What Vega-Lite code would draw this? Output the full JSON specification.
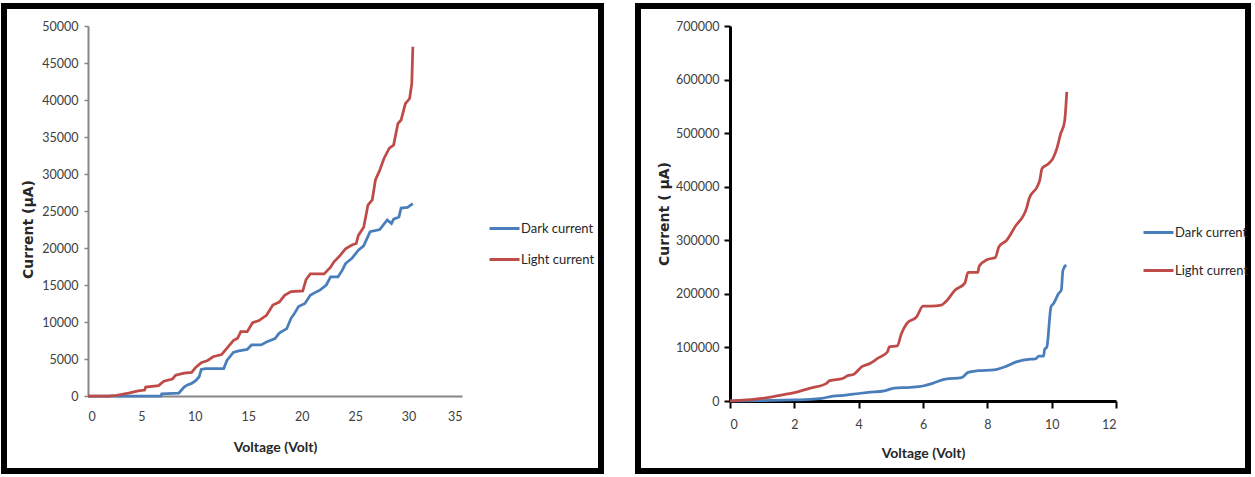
{
  "$schema": "https://vega.github.io/schema/vega-lite/v6.json",
  "padding": {"top": 3, "left": 1, "right": 0, "bottom": 0},
  "background": "white",
  "config": {
    "view": {"stroke": "black", "strokeWidth": 6},
    "concat": {"spacing": 31},
    "legend": {"labelFont": "Lato", "labelFontSize": 13, "labelColor": "#262626", "symbolType": "stroke", "symbolSize": 900, "symbolStrokeWidth": 3, "labelOffset": 0}
  },
  "resolve": {"scale": {"color": "independent"}, "legend": {"color": "independent"}},
  "datasets": {
    "left": [
      {"V": 0, "I": 0, "s": "Dark current"}, {"V": 2, "I": 0, "s": "Dark current"}, {"V": 4, "I": 0, "s": "Dark current"}, {"V": 6.8, "I": 0, "s": "Dark current"}, {"V": 6.9, "I": 300, "s": "Dark current"}, {"V": 8.5, "I": 400, "s": "Dark current"}, {"V": 9.0, "I": 1200, "s": "Dark current"}, {"V": 9.3, "I": 1500, "s": "Dark current"}, {"V": 9.7, "I": 1700, "s": "Dark current"}, {"V": 10.1, "I": 2100, "s": "Dark current"}, {"V": 10.4, "I": 2600, "s": "Dark current"}, {"V": 10.6, "I": 3600, "s": "Dark current"}, {"V": 11, "I": 3700, "s": "Dark current"}, {"V": 12.7, "I": 3700, "s": "Dark current"}, {"V": 13.0, "I": 4800, "s": "Dark current"}, {"V": 13.6, "I": 5900, "s": "Dark current"}, {"V": 14.1, "I": 6100, "s": "Dark current"}, {"V": 14.9, "I": 6300, "s": "Dark current"}, {"V": 15.3, "I": 6900, "s": "Dark current"}, {"V": 16.2, "I": 6900, "s": "Dark current"}, {"V": 16.7, "I": 7300, "s": "Dark current"}, {"V": 17.5, "I": 7750, "s": "Dark current"}, {"V": 17.9, "I": 8500, "s": "Dark current"}, {"V": 18.6, "I": 9100, "s": "Dark current"}, {"V": 19.0, "I": 10500, "s": "Dark current"}, {"V": 19.3, "I": 11100, "s": "Dark current"}, {"V": 19.7, "I": 12100, "s": "Dark current"}, {"V": 20.3, "I": 12500, "s": "Dark current"}, {"V": 20.8, "I": 13600, "s": "Dark current"}, {"V": 21.4, "I": 14100, "s": "Dark current"}, {"V": 21.7, "I": 14300, "s": "Dark current"}, {"V": 22.3, "I": 15000, "s": "Dark current"}, {"V": 22.7, "I": 16100, "s": "Dark current"}, {"V": 23.4, "I": 16100, "s": "Dark current"}, {"V": 23.8, "I": 17000, "s": "Dark current"}, {"V": 24.1, "I": 17900, "s": "Dark current"}, {"V": 24.7, "I": 18600, "s": "Dark current"}, {"V": 25.3, "I": 19700, "s": "Dark current"}, {"V": 25.8, "I": 20300, "s": "Dark current"}, {"V": 26.4, "I": 22200, "s": "Dark current"}, {"V": 27.3, "I": 22500, "s": "Dark current"}, {"V": 28.0, "I": 23800, "s": "Dark current"}, {"V": 28.4, "I": 23300, "s": "Dark current"}, {"V": 28.6, "I": 23900, "s": "Dark current"}, {"V": 29.1, "I": 24200, "s": "Dark current"}, {"V": 29.3, "I": 25400, "s": "Dark current"}, {"V": 29.9, "I": 25500, "s": "Dark current"}, {"V": 30.4, "I": 26000, "s": "Dark current"},
      {"V": 0, "I": 0, "s": "Light current"}, {"V": 1.9, "I": 0, "s": "Light current"}, {"V": 2.7, "I": 100, "s": "Light current"}, {"V": 3.8, "I": 400, "s": "Light current"}, {"V": 4.7, "I": 700, "s": "Light current"}, {"V": 5.3, "I": 800, "s": "Light current"}, {"V": 5.4, "I": 1200, "s": "Light current"}, {"V": 6.6, "I": 1400, "s": "Light current"}, {"V": 7.1, "I": 2000, "s": "Light current"}, {"V": 7.9, "I": 2300, "s": "Light current"}, {"V": 8.2, "I": 2800, "s": "Light current"}, {"V": 9.0, "I": 3100, "s": "Light current"}, {"V": 9.7, "I": 3200, "s": "Light current"}, {"V": 10.1, "I": 3900, "s": "Light current"}, {"V": 10.6, "I": 4500, "s": "Light current"}, {"V": 11.2, "I": 4800, "s": "Light current"}, {"V": 11.7, "I": 5300, "s": "Light current"}, {"V": 12.5, "I": 5600, "s": "Light current"}, {"V": 13.6, "I": 7500, "s": "Light current"}, {"V": 14.0, "I": 7800, "s": "Light current"}, {"V": 14.3, "I": 8700, "s": "Light current"}, {"V": 14.9, "I": 8700, "s": "Light current"}, {"V": 15.4, "I": 9900, "s": "Light current"}, {"V": 16.0, "I": 10200, "s": "Light current"}, {"V": 16.7, "I": 10900, "s": "Light current"}, {"V": 17.3, "I": 12300, "s": "Light current"}, {"V": 17.9, "I": 12700, "s": "Light current"}, {"V": 18.4, "I": 13600, "s": "Light current"}, {"V": 19.0, "I": 14100, "s": "Light current"}, {"V": 20.1, "I": 14200, "s": "Light current"}, {"V": 20.4, "I": 15700, "s": "Light current"}, {"V": 20.8, "I": 16500, "s": "Light current"}, {"V": 22.1, "I": 16500, "s": "Light current"}, {"V": 22.7, "I": 17400, "s": "Light current"}, {"V": 23.0, "I": 18100, "s": "Light current"}, {"V": 23.6, "I": 19000, "s": "Light current"}, {"V": 24.1, "I": 19900, "s": "Light current"}, {"V": 24.7, "I": 20400, "s": "Light current"}, {"V": 25.1, "I": 20600, "s": "Light current"}, {"V": 25.3, "I": 21700, "s": "Light current"}, {"V": 25.8, "I": 22800, "s": "Light current"}, {"V": 26.2, "I": 25800, "s": "Light current"}, {"V": 26.6, "I": 26500, "s": "Light current"}, {"V": 26.9, "I": 29200, "s": "Light current"}, {"V": 27.3, "I": 30500, "s": "Light current"}, {"V": 27.7, "I": 32100, "s": "Light current"}, {"V": 28.2, "I": 33500, "s": "Light current"}, {"V": 28.6, "I": 33900, "s": "Light current"}, {"V": 29.0, "I": 36800, "s": "Light current"}, {"V": 29.3, "I": 37300, "s": "Light current"}, {"V": 29.7, "I": 39500, "s": "Light current"}, {"V": 30.1, "I": 40200, "s": "Light current"}, {"V": 30.3, "I": 42200, "s": "Light current"}, {"V": 30.4, "I": 47200, "s": "Light current"}
    ],
    "right": [
      {"V": 0, "I": 0, "s": "Dark current"}, {"V": 1, "I": 500, "s": "Dark current"}, {"V": 2, "I": 2000, "s": "Dark current"}, {"V": 2.5, "I": 3000, "s": "Dark current"}, {"V": 2.85, "I": 5000, "s": "Dark current"}, {"V": 3.2, "I": 9000, "s": "Dark current"}, {"V": 3.6, "I": 11000, "s": "Dark current"}, {"V": 4.0, "I": 14000, "s": "Dark current"}, {"V": 4.3, "I": 16000, "s": "Dark current"}, {"V": 4.8, "I": 19000, "s": "Dark current"}, {"V": 5.1, "I": 24000, "s": "Dark current"}, {"V": 5.6, "I": 25500, "s": "Dark current"}, {"V": 6.0, "I": 28000, "s": "Dark current"}, {"V": 6.3, "I": 33000, "s": "Dark current"}, {"V": 6.7, "I": 41000, "s": "Dark current"}, {"V": 7.2, "I": 43500, "s": "Dark current"}, {"V": 7.4, "I": 53500, "s": "Dark current"}, {"V": 7.7, "I": 56500, "s": "Dark current"}, {"V": 8.2, "I": 58000, "s": "Dark current"}, {"V": 8.55, "I": 64000, "s": "Dark current"}, {"V": 8.9, "I": 73000, "s": "Dark current"}, {"V": 9.35, "I": 78000, "s": "Dark current"}, {"V": 9.5, "I": 78500, "s": "Dark current"}, {"V": 9.6, "I": 84000, "s": "Dark current"}, {"V": 9.75, "I": 84000, "s": "Dark current"}, {"V": 9.78, "I": 96000, "s": "Dark current"}, {"V": 9.85, "I": 101000, "s": "Dark current"}, {"V": 9.98, "I": 176000, "s": "Dark current"}, {"V": 10.06, "I": 182000, "s": "Dark current"}, {"V": 10.22, "I": 201000, "s": "Dark current"}, {"V": 10.3, "I": 207000, "s": "Dark current"}, {"V": 10.35, "I": 244000, "s": "Dark current"}, {"V": 10.45, "I": 254000, "s": "Dark current"},
      {"V": 0, "I": 0, "s": "Light current"}, {"V": 0.5, "I": 2000, "s": "Light current"}, {"V": 1.0, "I": 5000, "s": "Light current"}, {"V": 1.5, "I": 10000, "s": "Light current"}, {"V": 2.0, "I": 15500, "s": "Light current"}, {"V": 2.5, "I": 24000, "s": "Light current"}, {"V": 3.0, "I": 33000, "s": "Light current"}, {"V": 3.1, "I": 38000, "s": "Light current"}, {"V": 3.5, "I": 42000, "s": "Light current"}, {"V": 3.65, "I": 47000, "s": "Light current"}, {"V": 3.85, "I": 50000, "s": "Light current"}, {"V": 4.1, "I": 64000, "s": "Light current"}, {"V": 4.35, "I": 70000, "s": "Light current"}, {"V": 4.6, "I": 80000, "s": "Light current"}, {"V": 4.9, "I": 92000, "s": "Light current"}, {"V": 4.95, "I": 101000, "s": "Light current"}, {"V": 5.2, "I": 103000, "s": "Light current"}, {"V": 5.33, "I": 126000, "s": "Light current"}, {"V": 5.5, "I": 145000, "s": "Light current"}, {"V": 5.8, "I": 157000, "s": "Light current"}, {"V": 6.0, "I": 177000, "s": "Light current"}, {"V": 6.26, "I": 177000, "s": "Light current"}, {"V": 6.57, "I": 179000, "s": "Light current"}, {"V": 6.7, "I": 185000, "s": "Light current"}, {"V": 7.0, "I": 207000, "s": "Light current"}, {"V": 7.3, "I": 220000, "s": "Light current"}, {"V": 7.4, "I": 240000, "s": "Light current"}, {"V": 7.7, "I": 240000, "s": "Light current"}, {"V": 7.75, "I": 252000, "s": "Light current"}, {"V": 8.0, "I": 264000, "s": "Light current"}, {"V": 8.25, "I": 268000, "s": "Light current"}, {"V": 8.36, "I": 288000, "s": "Light current"}, {"V": 8.6, "I": 300000, "s": "Light current"}, {"V": 8.86, "I": 325000, "s": "Light current"}, {"V": 9.23, "I": 362000, "s": "Light current"}, {"V": 9.3, "I": 378000, "s": "Light current"}, {"V": 9.55, "I": 400000, "s": "Light current"}, {"V": 9.63, "I": 412000, "s": "Light current"}, {"V": 9.7, "I": 434000, "s": "Light current"}, {"V": 9.9, "I": 443000, "s": "Light current"}, {"V": 10.04, "I": 453000, "s": "Light current"}, {"V": 10.16, "I": 471000, "s": "Light current"}, {"V": 10.28, "I": 499000, "s": "Light current"}, {"V": 10.4, "I": 521000, "s": "Light current"}, {"V": 10.47, "I": 577000, "s": "Light current"}
    ]
  },
  "hconcat": [
    {
      "width": 597,
      "height": 465,
      "data": {"name": "left"},
      "mark": {"type": "line", "strokeWidth": 2.75, "clip": false},
      "encoding": {
        "x": {
          "field": "V", "type": "quantitative",
          "scale": {"domain": [0, 35], "range": [84, 458], "nice": false},
          "axis": {"orient": "bottom", "offset": -75, "values": [0, 5, 10, 15, 20, 25, 30, 35], "grid": false,
            "domainColor": "#868686", "domainWidth": 2, "ticks": false, "labelPadding": 14,
            "labelFont": "Lato", "labelFontSize": 12.5, "labelColor": "#404040",
            "title": "Voltage (Volt)", "titleFont": "Lato", "titleFontSize": 14, "titleFontWeight": "bold", "titleColor": "#262626", "titlePadding": 18}
        },
        "y": {
          "field": "I", "type": "quantitative",
          "scale": {"domain": [0, 50000], "range": [390, 20], "nice": false},
          "axis": {"orient": "left", "offset": -84, "values": [0, 5000, 10000, 15000, 20000, 25000, 30000, 35000, 40000, 45000, 50000], "grid": false, "format": "d",
            "domainColor": "#868686", "domainWidth": 2, "tickColor": "#868686", "tickSize": 4, "tickWidth": 1.5, "labelPadding": 6,
            "labelFont": "Lato", "labelFontSize": 12.5, "labelColor": "#404040",
            "title": "Current (µA)", "titleFont": "DejaVu Sans", "titleFontSize": 14, "titleFontWeight": "bold", "titleColor": "#262626", "titlePadding": 6, "titleY": 223}
        },
        "color": {
          "field": "s", "type": "nominal",
          "scale": {"domain": ["Dark current", "Light current"], "range": ["#4a7ebb", "#be4b48"]},
          "legend": {"orient": "none", "legendX": 484, "legendY": 206, "title": null, "rowPadding": 7}
        }
      }
    },
    {
      "width": 610,
      "height": 465,
      "data": {"name": "right"},
      "mark": {"type": "line", "strokeWidth": 2.75, "interpolate": "monotone", "clip": false},
      "encoding": {
        "x": {
          "field": "V", "type": "quantitative",
          "scale": {"domain": [0, 12], "range": [92, 478], "nice": false},
          "axis": {"orient": "bottom", "offset": -70, "values": [0, 2, 4, 6, 8, 10, 12], "grid": false,
            "domainColor": "black", "domainWidth": 3, "tickColor": "black", "tickSize": 7, "tickWidth": 2, "labelPadding": 10,
            "labelFont": "Lato", "labelFontSize": 12.5, "labelColor": "#404040",
            "title": "Voltage (Volt)", "titleFont": "Lato", "titleFontSize": 14, "titleFontWeight": "bold", "titleColor": "#262626", "titlePadding": 16}
        },
        "y": {
          "field": "I", "type": "quantitative",
          "scale": {"domain": [0, 700000], "range": [395, 20], "nice": false},
          "axis": {"orient": "left", "offset": -92, "values": [0, 100000, 200000, 300000, 400000, 500000, 600000, 700000], "grid": false, "format": "d",
            "domainColor": "black", "domainWidth": 3, "tickColor": "black", "tickSize": 6, "tickWidth": 2, "labelPadding": 5,
            "labelFont": "Lato", "labelFontSize": 12.5, "labelColor": "#404040",
            "title": "Current ( µA)", "titleFont": "DejaVu Sans", "titleFontSize": 14, "titleFontWeight": "bold", "titleColor": "#262626", "titlePadding": 4}
        },
        "color": {
          "field": "s", "type": "nominal",
          "scale": {"domain": ["Dark current", "Light current"], "range": ["#4a7ebb", "#be4b48"]},
          "legend": {"orient": "none", "legendX": 504, "legendY": 210, "title": null, "rowPadding": 14}
        }
      }
    }
  ]
}
